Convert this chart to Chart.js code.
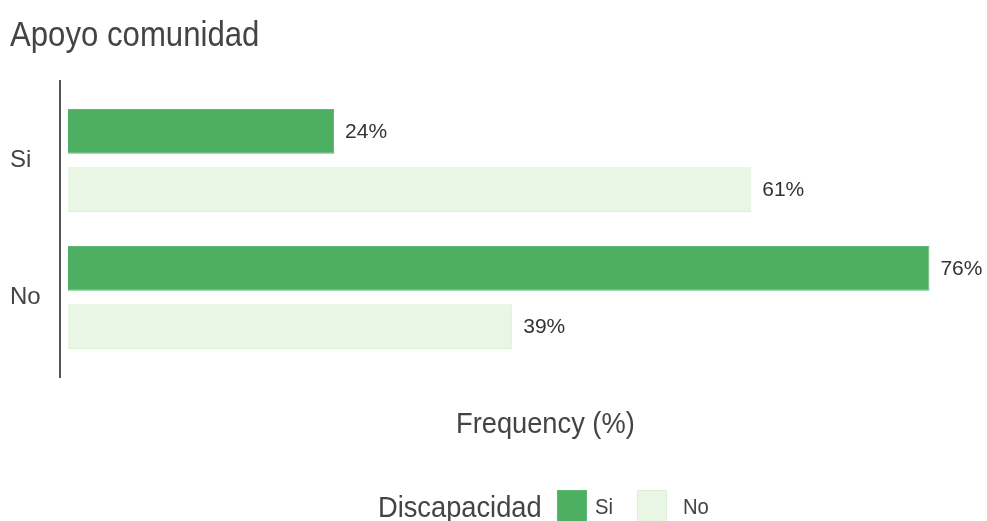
<!DOCTYPE html>
<html><head><meta charset="utf-8">
<script src="https://cdn.jsdelivr.net/npm/chart.js@4.4.1/dist/chart.umd.min.js"></script>
<style>
html,body{margin:0;padding:0;background:#fff;overflow:hidden;}
#wrap{position:relative;width:987px;height:521px;overflow:hidden;}
#c{position:absolute;left:0;top:0;}
.t{position:absolute;white-space:nowrap;font-family:"Liberation Sans",Arial,sans-serif;color:#444;line-height:1;transform-origin:0 50%;}
.box{position:absolute;width:30px;height:34px;box-sizing:border-box;}
</style></head>
<body>
<div id="wrap">
<canvas id="c" width="987" height="521"></canvas>
<div class="t" id="title" style="left:10px;top:16px;font-size:35px;transform:scaleX(0.89);">Apoyo comunidad</div>
<div class="t" id="xtitle" style="left:456px;top:409px;font-size:29px;transform:scaleX(0.94);">Frequency (%)</div>
<div class="t" style="left:378px;top:493px;font-size:29px;transform:scaleX(0.94);">Discapacidad</div>
<div class="box" style="left:557px;top:490px;background:#4caf62;border:1px solid #5cb870;"></div>
<div class="t" style="left:595px;top:496px;font-size:22px;transform:scaleX(0.92);">Si</div>
<div class="box" style="left:637px;top:490px;background:#e8f6e3;border:1px solid #dcf0d5;"></div>
<div class="t" style="left:683px;top:496px;font-size:22px;transform:scaleX(0.92);">No</div>
</div>
<script>
const categories = ['Si', 'No'];
const seriesNames = ['Si', 'No'];
const siValues = [23.6, 76.4];
const noValues = [60.6, 39.4];

const axisLine = {
  id: 'axisLine',
  afterDraw(chart) {
    const a = chart.chartArea, ctx = chart.ctx;
    ctx.save();
    ctx.strokeStyle = '#555';
    ctx.lineWidth = 2;
    ctx.beginPath();
    ctx.moveTo(a.left - 8, a.top - 12);
    ctx.lineTo(a.left - 8, a.bottom + 12);
    ctx.stroke();
    ctx.restore();
  }
};
const valueLabels = {
  id: 'valueLabels',
  afterDatasetsDraw(chart) {
    const ctx = chart.ctx;
    ctx.save();
    ctx.font = '21px "Liberation Sans", Arial, sans-serif';
    ctx.fillStyle = '#333';
    ctx.textAlign = 'left';
    ctx.textBaseline = 'middle';
    chart.data.datasets.forEach((ds, i) => {
      chart.getDatasetMeta(i).data.forEach((bar, j) => {
        ctx.fillText(Math.round(ds.data[j]) + '%', bar.x + 11, bar.y + 1);
      });
    });
    ctx.restore();
  }
};

new Chart(document.getElementById('c'), {
  type: 'bar',
  data: {
    labels: categories,
    datasets: [
      { label: seriesNames[0], data: siValues, backgroundColor: '#4caf62', borderColor: '#5cb870', borderWidth: 1 },
      { label: seriesNames[1], data: noValues, backgroundColor: '#e8f6e3', borderColor: '#dcf0d5', borderWidth: 1 }
    ]
  },
  options: {
    indexAxis: 'y',
    responsive: false,
    animation: false,
    devicePixelRatio: 1,
    categoryPercentage: 0.85,
    barPercentage: 0.77,
    layout: { padding: { left: 10, top: 92, bottom: 155, right: 17 } },
    plugins: { legend: { display: false }, title: { display: false }, tooltip: { enabled: false } },
    scales: {
      x: { display: false, min: 0, max: 80 },
      y: {
        grid: { display: false },
        border: { display: false },
        ticks: { color: '#444', crossAlign: 'far', font: { size: 24, family: '"Liberation Sans",Arial,sans-serif' } },
        afterFit(s) { s.width = 58; }
      }
    }
  },
  plugins: [axisLine, valueLabels]
});
</script>
</body></html>
